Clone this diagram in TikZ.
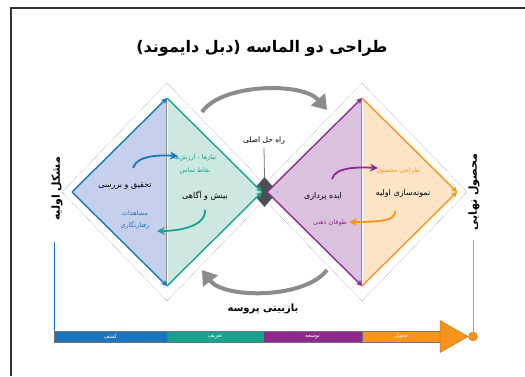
\documentclass[tikz,border=0pt]{standalone}
\usepackage{fontspec}
\newfontfamily\arabicfont[Script=Arabic]{DejaVu Sans}
\TeXXeTstate=1
\usepackage{tikz}
\usetikzlibrary{positioning, arrows.meta, shapes.geometric}

\definecolor{ddblue}{HTML}{1A75BC}
\definecolor{ddteal}{HTML}{17A38F}
\definecolor{ddpurple}{HTML}{8E2A8E}
\definecolor{ddorange}{HTML}{F7941D}
\definecolor{ltblue}{HTML}{C6CFEB}
\definecolor{ltteal}{HTML}{CDE7E1}
\definecolor{ltpurple}{HTML}{DBC1DE}
\definecolor{ltorange}{HTML}{FDE4C4}
\definecolor{hubgray}{HTML}{4D4D55}

\begin{document}
\begin{tikzpicture}[
    x=1pt, y=-1pt,
    fa/.style={font=\arabicfont\fontsize{8}{9}\selectfont, inner sep=0pt},
    small/.style={font=\arabicfont\fontsize{6.5}{8}\selectfont, inner sep=0pt},
    side/.style={font=\arabicfont\bfseries\fontsize{11}{12}\selectfont, inner sep=0pt, rotate=90},
    edge/.style={line width=1.4pt, -{Stealth[length=6pt, width=6pt]}},
    swirl/.style={line width=1.8pt, -{Stealth[length=8pt, width=8pt]}},
    loop/.style={line width=4pt, black!45, -{Triangle[length=14pt, width=18pt]}},
    frame/.style={densely dotted, black!45, line width=0.5pt},
    phase/.style={rectangle, draw=black!55, line width=0.5pt, minimum height=11pt, inner sep=0pt, outer sep=0pt, text=white, font=\arabicfont\fontsize{5.5}{6}\selectfont},
    hub/.style={diamond, fill=hubgray, minimum width=26pt, minimum height=30pt, inner sep=0pt}
]
\useasboundingbox (0,0) rectangle (525,376);
\draw[line width=1.6pt, black!80] (525,8) -- (11,8) -- (11,376);

% Title
\node (title) [inner sep=0pt, font=\arabicfont\bfseries\fontsize{16}{18}\selectfont] at (262,48) {\beginR طراحی دو الماسه (دبل دایموند)\endR};

% Diamond corners
\coordinate (Lleft) at (72,192);
\coordinate (Ltop) at (167,98);
\coordinate (Lright) at (262,192);
\coordinate (Lbot) at (167,286);
\coordinate (Rleft) at (267,192);
\coordinate (Rtop) at (362,98);
\coordinate (Rright) at (457,192);
\coordinate (Rbot) at (362,286);

% Dotted outlines
\draw[frame] (62,192) -- (167,83) -- (272,192) -- (167,301) -- cycle;
\draw[frame] (257,192) -- (362,83) -- (467,192) -- (362,301) -- cycle;

% Main solution
\node (hub) [hub] at (264.5,192) {};
\node (solution) [fa, font=\arabicfont\fontsize{7.5}{8}\selectfont] at (264,141) {\beginR راه حل اصلی\endR};
\draw[black!55, line width=0.8pt] ([yshift=-3pt]solution.south) -- (hub.north);

% Fills
\fill[ltblue] (Lleft) -- (Ltop) -- (Lbot) -- cycle;
\fill[ltteal] (Ltop) -- (Lright) -- (Lbot) -- cycle;
\fill[ltpurple] (Rleft) -- (Rtop) -- (Rbot) -- cycle;
\fill[ltorange] (Rtop) -- (Rright) -- (Rbot) -- cycle;
\draw[black!45, line width=1.8pt] (Ltop) -- (Lbot);
\draw[white, line width=0.6pt] (Ltop) -- (Lbot);
\draw[black!45, line width=1.8pt] (Rtop) -- (Rbot);
\draw[white, line width=0.6pt] (Rtop) -- (Rbot);

% Edges
\draw[edge, ddblue] (Lleft) -- (Ltop);
\draw[edge, ddblue] (Lleft) -- (Lbot);
\draw[edge, ddteal] (Ltop) -- (Lright);
\draw[edge, ddteal] (Lbot) -- (Lright);
\draw[edge, ddpurple] (Rleft) -- (Rtop);
\draw[edge, ddpurple] (Rleft) -- (Rbot);
\draw[edge, ddorange] (Rtop) -- (Rright);
\draw[edge, ddorange] (Rbot) -- (Rright);

% Texts
\node (research) [fa] at (125,186) {\beginR تحقیق و بررسی\endR};
\node (observe) [small, text=ddblue] at (135,213) {\beginR مشاهدات\endR};
\node (ethno) [small, text=ddblue, below=6pt of observe] {\beginR رفتارنگاری\endR};
\node (needs) [small, text=ddteal] at (195,158) {\beginR نیازها - ارزش‌ها\endR};
\node (touch) [small, text=ddteal, below=6pt of needs] {\beginR نقاط تماس\endR};
\node (insight) [fa] at (205,196) {\beginR بینش و آگاهی\endR};
\node (ideate) [fa] at (323,196) {\beginR ایده پردازی\endR};
\node (brain) [small, text=ddpurple] at (330,223) {\beginR طوفان ذهنی\endR};
\node (proto) [fa] at (403,193) {\beginR نمونه‌سازی اولیه\endR};
\node (product) [small, text=ddorange] at (398,171) {\beginR طراحی محصول\endR};

% Swirls
\coordinate (b0) at (133,168);
\coordinate (b1) at (178,156);
\coordinate (t0) at (205,210);
\coordinate (t1) at (157,231);
\coordinate (p0) at (332,179);
\coordinate (p1) at (378,168);
\coordinate (o0) at (395,211);
\coordinate (o1) at (349,222);
\draw[swirl, ddblue] (b0) .. controls (137,155) and (160,155) .. (b1);
\draw[swirl, ddteal] (t0) .. controls (206,226) and (180,231) .. (t1);
\draw[swirl, ddpurple] (p0) .. controls (335,167) and (358,167) .. (p1);
\draw[swirl, ddorange] (o0) .. controls (397,222) and (372,222) .. (o1);

% Review loop
\coordinate (up0) at (202,112);
\coordinate (up1) at (327,110);
\coordinate (dn0) at (327,270);
\coordinate (dn1) at (202,270);
\draw[loop] (up0) .. controls (222,83) and (303,82) .. (up1);
\draw[loop] (dn0) .. controls (305,299) and (224,299) .. (dn1);
\node (review) [inner sep=0pt, font=\arabicfont\bfseries\fontsize{10}{12}\selectfont] at (263,309) {\beginR بازبینی پروسه\endR};

% Side labels
\node (problem) [side] at (57,189) {\beginR مشکل اولیه\endR};
\node (result) [side] at (474,192) {\beginR محصول نهایی\endR};

% Phase bar
\node (discover) [phase, fill=ddblue, minimum width=113pt, anchor=west] at (54,336.5) {\beginR کشف\endR};
\node (define) [phase, fill=ddteal, minimum width=96pt, right=0pt of discover] {\beginR تعریف\endR};
\node (develop) [phase, fill=ddpurple, minimum width=99pt, right=0pt of define] {\beginR توسعه\endR};
\node (deliver) [phase, fill=ddorange, minimum width=78pt, right=0pt of develop] {\beginR تحویل\endR};
\coordinate (tip) at (468,336.5);
\filldraw[ddorange, draw=ddorange!80!black, line width=0.5pt] ([yshift=-16pt]deliver.east) -- (tip) -- ([yshift=16pt]deliver.east) -- cycle;
\node (finish) [circle, fill=ddorange, draw=ddorange!80!black, minimum size=9pt, inner sep=0pt] at (473,336.5) {};
\coordinate (resultfoot) at (473,240);
\coordinate (problemfoot) at (54,242);
\draw[ddorange, line width=1pt] (finish) -- (resultfoot);
\draw[ddblue, line width=1pt] (discover.north west) -- (problemfoot);

\end{tikzpicture}
\end{document}
